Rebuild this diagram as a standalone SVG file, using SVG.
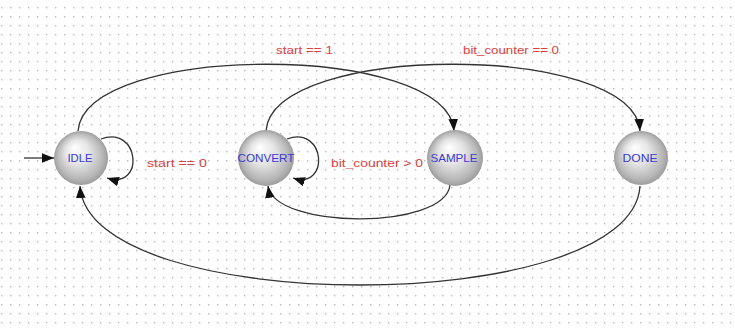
<svg xmlns="http://www.w3.org/2000/svg" width="735" height="330" viewBox="0 0 735 330">
  <defs>
    <!-- dotted drawing-canvas grid -->
    <pattern id="grid" x="10" y="7" width="9" height="9" patternUnits="userSpaceOnUse">
      <rect x="0" y="0" width="1.4" height="1.4" fill="#b8b8b8"/>
    </pattern>
    <!-- shaded state sphere -->
    <radialGradient id="sphere" cx="0.5" cy="0.5" r="0.5" fx="0.38" fy="0.3">
      <stop offset="0" stop-color="#ffffff"/>
      <stop offset="0.45" stop-color="#e4e4e4"/>
      <stop offset="0.85" stop-color="#b6b6b6"/>
      <stop offset="1" stop-color="#9c9c9c"/>
    </radialGradient>
    <marker id="arrow" viewBox="0 0 10 8" refX="10" refY="4" markerWidth="12" markerHeight="10" markerUnits="userSpaceOnUse" orient="auto">
      <path d="M0,0 L10,4 L0,8 z" fill="#111"/>
    </marker>
  </defs>
  <style>
    .edge { fill: none; stroke: #333; stroke-width: 1.3; marker-end: url(#arrow); }
    .state { fill: url(#sphere); }
    .name { font-family: "Liberation Sans", Arial, sans-serif; font-size: 10.5px; fill: #3a3ad8; text-anchor: middle; }
    .cond { font-family: "Liberation Sans", Arial, sans-serif; font-size: 10px; fill: #dc4040; }
  </style>

  <rect x="0" y="0" width="735" height="330" fill="#ffffff"/>
  <rect x="0" y="0" width="735" height="330" fill="url(#grid)"/>

  <g id="connectors">
    <!-- reset entry -->
    <path class="edge" d="M 24,158 L 54,158"/>
    <!-- IDLE stays while start == 0 -->
    <path class="edge" d="M 101,139 C 140,125 145,190 107,178"/>
    <!-- IDLE to SAMPLE -->
    <path class="edge" d="M 78,131 C 85,42 448,42 454,131"/>
    <!-- CONVERT to DONE -->
    <path class="edge" d="M 266,131 C 272,42 634,42 640,131"/>
    <!-- CONVERT stays while bit_counter > 0 -->
    <path class="edge" d="M 287,139 C 326,125 330,190 293,178"/>
    <!-- SAMPLE to CONVERT -->
    <path class="edge" d="M 450,185 C 445,230 275,230 268,186"/>
    <!-- DONE back to IDLE -->
    <path class="edge" d="M 640,186 C 632,318 88,318 80,186"/>
  </g>

  <g id="labels">
    <text class="cond" x="147" y="167" textLength="60" lengthAdjust="spacingAndGlyphs">start == 0</text>
    <text class="cond" x="276" y="54" textLength="57" lengthAdjust="spacingAndGlyphs">start == 1</text>
    <text class="cond" x="463" y="54" textLength="96" lengthAdjust="spacingAndGlyphs">bit_counter == 0</text>
    <text class="cond" x="331" y="167" textLength="92" lengthAdjust="spacingAndGlyphs">bit_counter &gt; 0</text>
  </g>

  <g id="IDLE">
    <circle class="state" cx="81" cy="158" r="27"/>
    <text class="name" x="80" y="162" textLength="25" lengthAdjust="spacingAndGlyphs">IDLE</text>
  </g>
  <g id="CONVERT">
    <circle class="state" cx="266" cy="158" r="28"/>
    <text class="name" x="266" y="162" textLength="57" lengthAdjust="spacingAndGlyphs">CONVERT</text>
  </g>
  <g id="SAMPLE">
    <circle class="state" cx="455" cy="158" r="28"/>
    <text class="name" x="454" y="162" textLength="47" lengthAdjust="spacingAndGlyphs">SAMPLE</text>
  </g>
  <g id="DONE">
    <circle class="state" cx="641" cy="158" r="27"/>
    <text class="name" x="640" y="162" textLength="35" lengthAdjust="spacingAndGlyphs">DONE</text>
  </g>
</svg>
